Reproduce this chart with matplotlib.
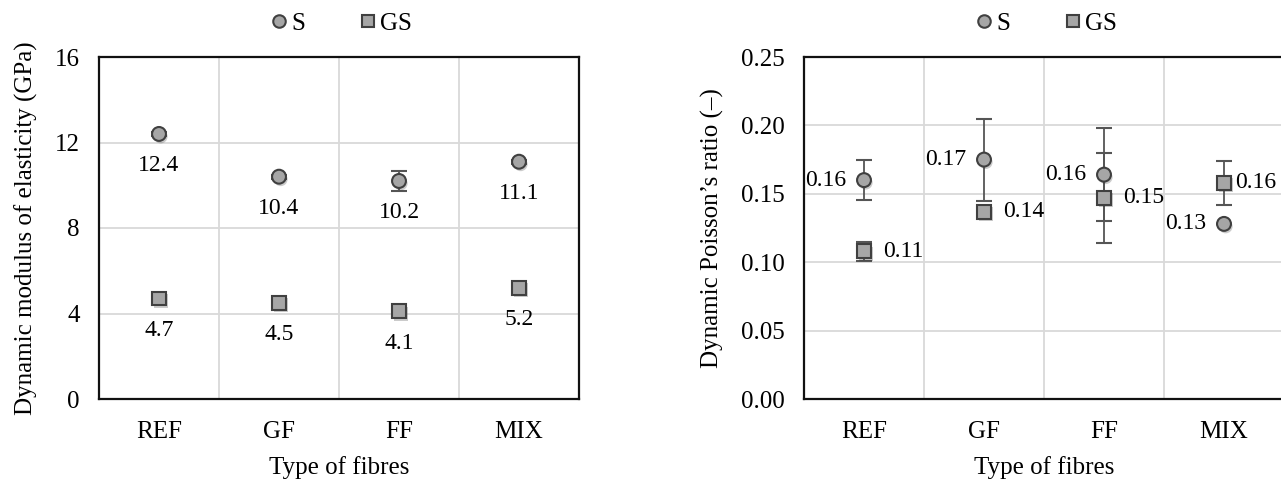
import numpy as np
import matplotlib.pyplot as plt
import matplotlib.patheffects as pe
from matplotlib.lines import Line2D

plt.rcParams['font.family'] = ['Liberation Serif', 'DejaVu Serif']

# data
fibres = ['REF', 'GF', 'FF', 'MIX']

e_s = [12.4, 10.4, 10.2, 11.1]
e_s_err = [0.1, 0.1, 0.45, 0.1]
e_gs = [4.7, 4.5, 4.1, 5.2]
e_gs_err = [0.05, 0.05, 0.05, 0.05]

nu_s = [0.160, 0.175, 0.164, 0.128]
nu_s_err = [0.0145, 0.030, 0.034, 0.0]
nu_gs = [0.108, 0.137, 0.147, 0.158]
nu_gs_err = [0.007, 0.0, 0.033, 0.016]

fs = 18
fs_lab = 17
edge = '#404040'
fill = '#a6a6a6'
shadow = [pe.SimplePatchShadow(offset=(1.2, -1.8), alpha=0.25), pe.Normal()]

fig = plt.figure(figsize=(12.81, 4.79), dpi=100)
ax1 = fig.add_axes([99 / 1281, 1 - 399 / 479, 480 / 1281, 342 / 479])
ax2 = fig.add_axes([804 / 1281, 1 - 399 / 479, 480 / 1281, 342 / 479])

x = np.arange(len(fibres))


def style(ax, ticks, fmt):
    ax.set_xlim(-0.5, len(fibres) - 0.5)
    ax.set_ylim(ticks[0], ticks[-1])
    ax.set_yticks(ticks)
    ax.set_yticklabels([fmt.format(t) for t in ticks], fontsize=fs)
    ax.set_xticks(x)
    ax.set_xticklabels(fibres, fontsize=fs)
    ax.set_xticks(np.arange(len(fibres) - 1) + 0.5, minor=True)
    ax.tick_params(which='both', length=0, pad=16)
    ax.tick_params(axis='y', pad=14)
    ax.grid(True, axis='y', color='#d9d9d9', lw=1.3)
    ax.grid(True, axis='x', which='minor', color='#d9d9d9', lw=1.3)
    ax.set_axisbelow(True)
    for sp in ax.spines.values():
        sp.set_linewidth(1.6)
        sp.set_color('#111111')
    ax.set_xlabel('Type of fibres', fontsize=fs, labelpad=9)
    handles = [
        Line2D([], [], ls='none', marker='o', ms=9, mfc=fill, mec=edge, mew=1.5),
        Line2D([], [], ls='none', marker='s', ms=9, mfc=fill, mec=edge, mew=1.5),
    ]
    ax.legend(handles, ['S', 'GS'], loc='lower center', bbox_to_anchor=(0.5, 1.0),
              ncol=2, frameon=False, fontsize=fs, handletextpad=0.0,
              columnspacing=2.0, handlelength=1.0)


def series(ax, y, err, marker):
    c = ax.errorbar(x, y, yerr=err, fmt=marker, ms=10, mfc=fill, mec=edge,
                    mew=1.5, ecolor='#555555', elinewidth=1.3, capsize=5.5,
                    capthick=1.3, zorder=3)
    c[0].set_path_effects(shadow)
    return c


# left: dynamic modulus
series(ax1, e_s, e_s_err, 'o')
series(ax1, e_gs, e_gs_err, 's')
for xi, v in zip(x, e_s):
    ax1.annotate(f'{v:.1f}', (xi, v), xytext=(0, -23), textcoords='offset points',
                 ha='center', va='center', fontsize=fs_lab)
for xi, v in zip(x, e_gs):
    ax1.annotate(f'{v:.1f}', (xi, v), xytext=(0, -23), textcoords='offset points',
                 ha='center', va='center', fontsize=fs_lab)
style(ax1, [0, 4, 8, 12, 16], '{:g}')
ax1.set_ylabel('Dynamic modulus of elasticity (GPa)', fontsize=fs, labelpad=12)

# right: dynamic Poisson's ratio
series(ax2, nu_s, nu_s_err, 'o')
series(ax2, nu_gs, nu_gs_err, 's')
for xi, v in zip(x, nu_s):
    ax2.annotate(f'{v:.2f}', (xi, v), xytext=(-13, 0), textcoords='offset points',
                 ha='right', va='center', fontsize=fs_lab)
gs_dx = [14, 14, 14, 8]
for xi, v, dx in zip(x, nu_gs, gs_dx):
    ax2.annotate(f'{v:.2f}', (xi, v), xytext=(dx, 0), textcoords='offset points',
                 ha='left', va='center', fontsize=fs_lab)
style(ax2, [0.0, 0.05, 0.10, 0.15, 0.20, 0.25], '{:.2f}')
ax2.set_ylabel('Dynamic Poisson\u2019s ratio (\u2013)', fontsize=fs, labelpad=12)

fig.savefig('out.png', dpi=100)
